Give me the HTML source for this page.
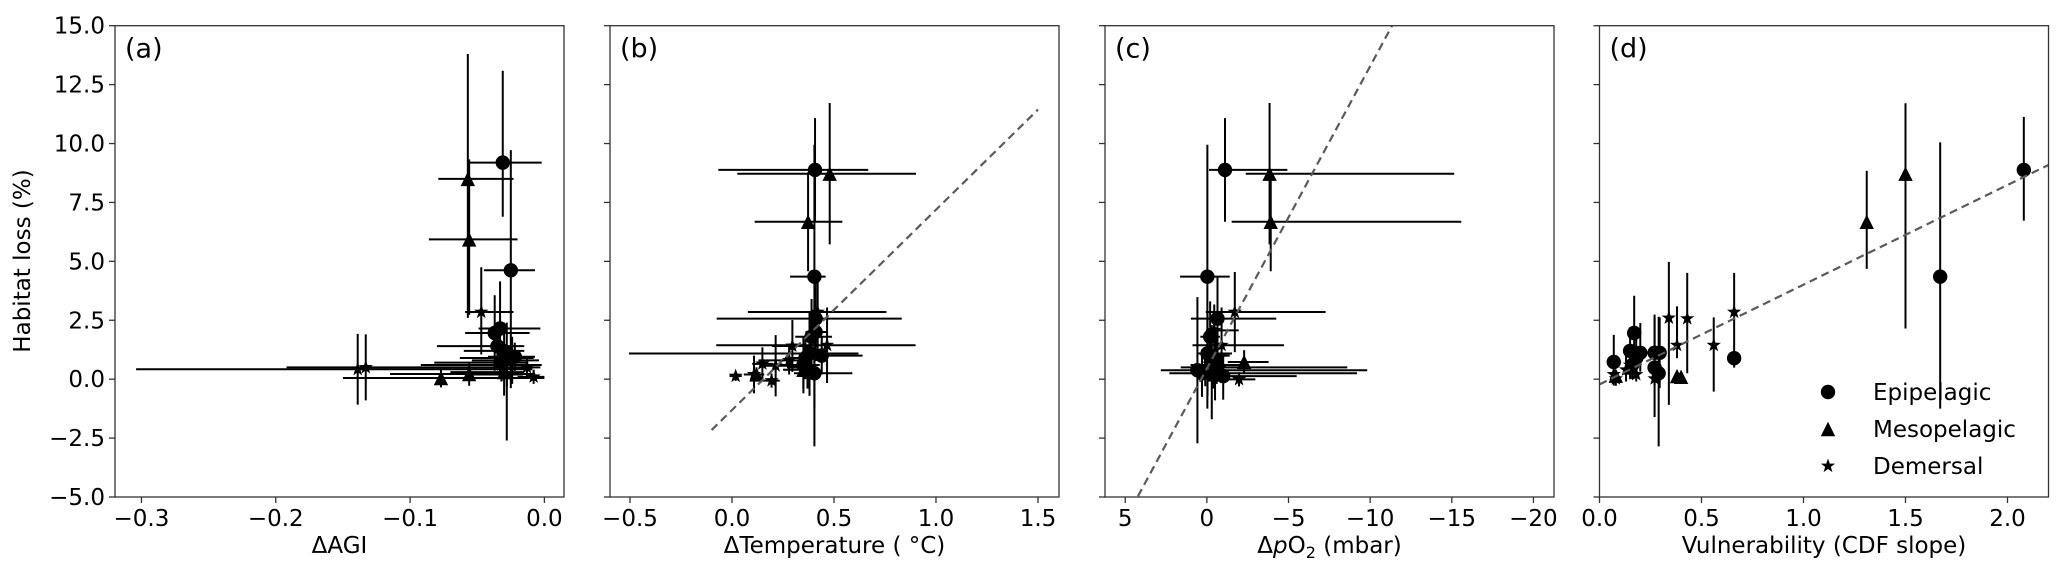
<!DOCTYPE html>
<html><head><meta charset="utf-8">
<style>
html,body{margin:0;padding:0;background:#fff;}
svg{display:block;font-family:"DejaVu Sans","Liberation Sans",sans-serif;}
</style></head>
<body>
<svg id="fig" width="2067" height="577" viewBox="0 0 2067 577" xmlns="http://www.w3.org/2000/svg">
<text x="0" y="0" font-size="23" text-anchor="middle" transform="translate(30,261) rotate(-90)">Habitat loss (%)</text>
</svg>
<script>
// ---------- shared y axis ----------
const yTicks = [15.0, 12.5, 10.0, 7.5, 5.0, 2.5, 0.0, -2.5, -5.0];
const yTickLabels = ["15.0","12.5","10.0","7.5","5.0","2.5","0.0","\u22122.5","\u22125.0"];
const seriesNames = ["Epipelagic","Mesopelagic","Demersal"];
const seriesMarkers = ["c","t","s"];

// ---------- panel (a): ΔAGI ----------
const aX   = [-0.031,-0.057,-0.056,-0.025,-0.047,-0.037,-0.033,-0.030,-0.028,-0.032,-0.077,-0.056,-0.139,-0.133,-0.008,-0.013,-0.030,-0.028,-0.024,-0.022,-0.035,-0.032];
const aY   = [9.19,8.50,5.93,4.62,2.85,1.96,2.15,1.20,0.90,0.70,0.05,0.22,0.42,0.50,0.10,0.50,0.30,0.20,0.80,0.95,1.40,0.60];
const aXLo = [0.025,0.022,0.030,0.020,0.012,0.022,0.016,0.030,0.035,0.050,0.073,0.059,0.165,0.059,0.012,0.015,0.040,0.030,0.030,0.020,0.045,0.060];
const aXHi = [0.029,0.034,0.036,0.018,0.024,0.026,0.030,0.015,0.020,0.020,0.077,0.048,0.130,0.125,0.008,0.010,0.015,0.012,0.020,0.015,0.020,0.030];
const aYLo = [2.3,5.9,3.2,5.0,1.8,1.6,2.0,1.2,3.5,0.8,0.4,0.5,1.5,1.4,0.3,0.4,1.0,0.5,1.0,0.6,0.7,0.6];
const aYHi = [3.9,5.3,3.4,5.1,1.9,1.6,2.0,1.2,1.5,0.8,0.4,0.5,1.5,1.4,0.3,0.4,1.0,0.5,1.0,0.6,0.7,0.6];
const aM   = ["c","t","t","c","s","c","c","c","c","c","t","t","s","s","s","s","t","s","s","c","c","s"];

// ---------- panel (b): ΔTemperature ----------
const bX   = [0.407,0.479,0.373,0.404,0.420,0.410,0.466,0.296,0.380,0.404,0.390,0.410,0.350,0.360,0.350,0.018,0.108,0.194,0.149,0.214,0.280,0.120,0.440,0.370];
const bY   = [8.88,8.72,6.68,4.35,2.85,2.57,1.44,1.41,1.09,0.25,1.80,2.00,0.60,0.90,0.40,0.13,0.20,-0.06,0.65,0.57,0.80,0.20,1.00,0.50];
const bXLo = [0.474,0.453,0.262,0.120,0.342,0.485,0.543,0.100,0.885,0.100,0.080,0.050,0.150,0.100,0.100,0.030,0.050,0.040,0.050,0.070,0.150,0.030,0.050,0.100];
const bXHi = [0.261,0.423,0.168,0.055,0.337,0.422,0.434,0.100,0.240,0.186,0.100,0.060,0.080,0.100,0.050,0.030,0.050,0.040,0.050,0.130,0.100,0.030,0.200,0.050];
const bYErr= [2.2,3.0,2.1,5.6,1.7,1.8,1.6,1.1,1.8,3.1,1.6,1.0,1.2,0.9,0.8,0.2,0.8,0.3,0.7,1.3,0.6,0.3,0.8,0.9];
const bM   = ["c","t","t","c","s","c","s","s","c","c","c","c","c","c","t","s","s","s","s","s","s","t","c","s"];
const bFit = [8.5, -1.31];      // slope, intercept
const bFitRange = [-0.1, 1.5];

// ---------- panel (c): ΔpO2 ----------
const cX   = [-1.11,-3.84,-3.91,-0.03,-1.71,-0.65,-0.90,-0.45,-0.04,0.58,0.30,0.10,-1.97,-2.28,-1.00,-0.50,-0.30,-0.20,-0.80,-0.20,-0.60,-0.40];
const cY   = [8.88,8.72,6.68,4.35,2.85,2.57,1.44,2.07,1.09,0.38,0.25,0.50,-0.01,0.73,0.13,0.60,0.30,1.00,0.50,1.80,1.00,0.20];
const cXLo = [3.82,11.31,11.67,1.37,5.56,3.60,3.82,1.50,1.50,10.40,9.50,8.70,1.00,1.50,4.50,2.00,1.00,1.00,1.20,0.60,0.80,1.00];
const cXHi = [0.98,1.46,2.39,1.67,1.78,1.63,1.78,0.50,0.60,2.24,2.00,1.50,1.00,1.00,1.20,1.50,0.80,0.50,0.80,0.60,0.80,0.50];
const cYErr= [2.2,3.0,2.1,5.6,1.7,1.8,1.6,1.1,1.8,3.1,1.0,0.8,0.3,0.5,1.0,1.5,2.0,0.8,0.6,1.5,1.2,0.6];
const cM   = ["c","t","t","c","s","c","s","s","c","c","c","s","s","t","c","c","s","t","s","c","s","t"];
const cFit = [-1.283, 0.45];
const cFitRange = [4.6, -11.4];

// ---------- panel (d): Vulnerability ----------
const dX   = [2.08,1.50,1.31,1.67,0.66,0.66,0.56,0.43,0.34,0.38,0.38,0.40,0.29,0.27,0.27,0.295,0.27,0.07,0.17,0.20,0.15,0.16,0.18,0.08,0.07,0.18,0.13,0.15,0.08,0.15];
const dY   = [8.88,8.72,6.68,4.35,2.85,0.89,1.44,2.57,2.60,1.44,0.13,0.10,0.25,0.49,1.12,1.12,0.02,0.73,1.96,1.12,1.20,0.60,0.90,0.02,0.20,0.20,0.40,0.60,0.15,0.50];
const dYLo = [2.15,6.57,2.00,5.60,2.36,0.30,1.97,2.32,3.69,0.55,0.20,0.20,3.10,2.10,1.00,1.50,0.30,1.00,1.20,0.80,0.80,0.60,0.70,0.30,0.30,0.30,0.50,0.50,0.20,0.50];
const dYHi = [2.25,2.99,2.16,5.70,1.66,0.30,1.18,1.94,2.38,1.65,0.20,0.20,2.40,2.25,1.50,1.50,0.30,1.15,1.58,1.26,1.00,0.80,0.90,0.30,0.30,0.30,0.60,0.80,0.20,0.60];
const dM   = ["c","t","t","c","s","c","s","s","s","s","t","t","c","c","c","c","s","c","c","c","c","c","c","s","s","s","s","s","t","t"];
const dFit = [4.23, -0.22];
const dFitRange = [0, 2.2];

// ---------- layout ----------
const TOP = 25.7, BOT = 497, W = 449;
const panels = [
  {id:"a", left:115,  dom:[-0.3197,0.0146], ticks:[-0.3,-0.2,-0.1,0.0], tl:["\u22120.3","\u22120.2","\u22120.1","0.0"],
   X:aX, Y:aY, XLo:aXLo, XHi:aXHi, YLo:aYLo, YHi:aYHi, M:aM, fit:null, ylabels:true},
  {id:"b", left:610,  dom:[-0.598,1.603], ticks:[-0.5,0,0.5,1.0,1.5], tl:["\u22120.5","0.0","0.5","1.0","1.5"],
   X:bX, Y:bY, XLo:bXLo, XHi:bXHi, YLo:bYErr, YHi:bYErr, M:bM, fit:bFit, fr:bFitRange},
  {id:"c", left:1105, dom:[6.24,-21.26], ticks:[5,0,-5,-10,-15,-20], tl:["5","0","\u22125","\u221210","\u221215","\u221220"],
   X:cX, Y:cY, XLo:cXLo, XHi:cXHi, YLo:cYErr, YHi:cYErr, M:cM, fit:cFit, fr:cFitRange},
  {id:"d", left:1599.5, dom:[0,2.201], ticks:[0,0.5,1.0,1.5,2.0], tl:["0.0","0.5","1.0","1.5","2.0"],
   X:dX, Y:dY, XLo:null, XHi:null, YLo:dYLo, YHi:dYHi, M:dM, fit:dFit, fr:dFitRange, legend:true}
];
const xLabels = {a:"\u0394AGI", b:"\u0394Temperature ( \u00B0C)", c:null, d:"Vulnerability (CDF slope)"};

const NS = "http://www.w3.org/2000/svg";
const svg = document.getElementById("fig");
function mk(tag, attrs, parent){
  const e = document.createElementNS(NS, tag);
  for (const k in attrs) e.setAttribute(k, attrs[k]);
  (parent||svg).appendChild(e);
  return e;
}
function yScale(v){ return TOP + (15 - v) * (BOT - TOP) / 20; }

function marker(g, m, cx, cy){
  let e;
  if (m === "c") {
    e = mk("circle", {cx:cx, cy:cy, r:7.2, fill:"#000"}, g);
    
  } else if (m === "t") {
    const r = 7.2;
    e = mk("polygon", {points:`${cx},${cy-r} ${cx-r},${cy+r} ${cx+r},${cy+r}`, fill:"#000"}, g);
    
  } else {
    let pts = [];
    for (let i=0;i<10;i++){
      const ang = -Math.PI/2 + i*Math.PI/5;
      const rr = i%2===0 ? 7.5 : 3.0;
      pts.push((cx+rr*Math.cos(ang)).toFixed(2)+","+(cy+rr*Math.sin(ang)).toFixed(2));
    }
    e = mk("polygon", {points:pts.join(" "), fill:"#000"}, g);
    
  }
  
  return e;
}

panels.forEach(p => {
  const L = p.left, R = p.left + W;
  const xs = v => L + (v - p.dom[0]) * W / (p.dom[1] - p.dom[0]);
  const g = mk("g", {});
  
  
  const clipId = "clip-" + p.id;
  const cp = mk("clipPath", {id:clipId}, g);
  mk("rect", {x:L, y:TOP, width:W, height:BOT-TOP}, cp);

  // ticks
  yTicks.forEach((t,i) => {
    const y = yScale(t);
    const tk = mk("line", {x1:L-6, x2:L, y1:y, y2:y, stroke:"#333", "stroke-width":1.3}, g);
    
    
    if (p.ylabels) {
      const tx = mk("text", {x:L-10, y:y+8, "font-size":23, "text-anchor":"end", fill:"#000"}, g);
      tx.textContent = yTickLabels[i];
      
      
    }
  });
  p.ticks.forEach((t,i) => {
    const x = xs(t);
    const tk = mk("line", {x1:x, x2:x, y1:BOT, y2:BOT+6, stroke:"#333", "stroke-width":1.3}, g);
    
    
    const tx = mk("text", {x:x, y:BOT+29, "font-size":23, "text-anchor":"middle", fill:"#000"}, g);
    tx.textContent = p.tl[i];
    
    
  });

  // x axis title
  let xt;
  if (p.id === "c") {
    xt = mk("text", {x:L+W/2, y:BOT+56, "font-size":23, "text-anchor":"middle", fill:"#000"}, g);
    xt.innerHTML = '\u0394<tspan font-style="italic">p</tspan>O<tspan font-size="16" dy="5">2</tspan><tspan dy="-5"> (mbar)</tspan>';
  } else {
    xt = mk("text", {x:L+W/2, y:BOT+56, "font-size":23, "text-anchor":"middle", fill:"#000"}, g);
    xt.textContent = xLabels[p.id];
  }
  
  

  // data
  const dg = mk("g", {"clip-path":`url(#${clipId})`}, g);
  
  
  p.X.forEach((xv,i) => {
    const cx = xs(xv), cy = yScale(p.Y[i]);
    if (p.XLo) {
      const eb = mk("line", {x1:xs(xv - p.XLo[i]), x2:xs(xv + p.XHi[i]), y1:cy, y2:cy, stroke:"#000", "stroke-width":2}, dg);
      
      
    }
    const ev = mk("line", {x1:cx, x2:cx, y1:yScale(p.Y[i] + p.YHi[i]), y2:yScale(p.Y[i] - p.YLo[i]), stroke:"#000", "stroke-width":2}, dg);
    
    
  });
  p.X.forEach((xv,i) => marker(dg, p.M[i], xs(xv), yScale(p.Y[i])));

  if (p.fit) {
    const x0 = p.fr[0], x1 = p.fr[1];
    const fl = mk("line", {x1:xs(x0), y1:yScale(p.fit[0]*x0 + p.fit[1]), x2:xs(x1), y2:yScale(p.fit[0]*x1 + p.fit[1]),
      stroke:"#5a5a5a", "stroke-width":2.2, "stroke-dasharray":"8,5"}, dg);
    
    
  }

  // frame
  const fr = mk("rect", {x:L, y:TOP, width:W, height:BOT-TOP, fill:"none", stroke:"#333", "stroke-width":1.3}, g);
  
  

  const lt = mk("text", {x:L+10, y:TOP+32, "font-size":27, fill:"#000"}, g);
  lt.textContent = "(" + p.id + ")";
  
  

  if (p.legend) {
    const lg = mk("g", {}, g);
    
    
    const ly = [392, 429, 466];
    seriesNames.forEach((n,i) => {
      const ent = mk("g", {}, lg);
      
      
      marker(ent, seriesMarkers[i], 1828, ly[i]);
      const tx = mk("text", {x:1873, y:ly[i]+8, "font-size":23, fill:"#000"}, ent);
      tx.textContent = n;
      
      
    });
  }
});
</script>
</body></html>
